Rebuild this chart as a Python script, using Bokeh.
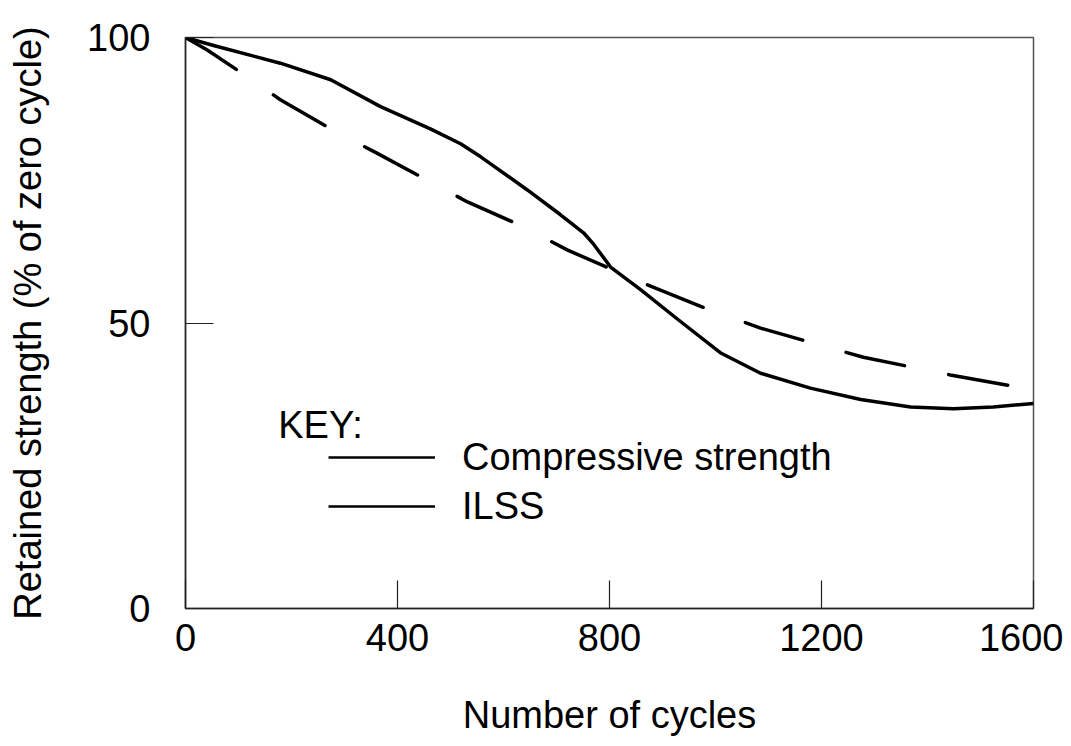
from bokeh.plotting import figure
from bokeh.models import Range1d, FixedTicker, Legend, LegendItem, Label
from bokeh.embed import file_html
from bokeh.resources import INLINE

# ---- data ----
comp_cycles = [0, 53, 179, 274, 368, 462, 519, 557, 645, 707, 751, 770, 802, 858,
               928, 1009, 1085, 1179, 1274, 1368, 1449, 1524, 1600]
comp_strength = [100, 98.6, 95.5, 92.6, 87.9, 84.0, 81.4, 79.1, 73.3, 69.0, 65.8, 63.8,
                 59.8, 55.9, 50.7, 44.8, 41.2, 38.6, 36.6, 35.3, 35.0, 35.3, 35.9]

ilss_cycles = [0, 41, 117, 179, 274, 362, 456, 532, 632, 720, 871, 972, 1085, 1279, 1443, 1600]
ilss_strength = [100, 97.8, 93.1, 89.1, 84.0, 79.7, 75.0, 71.2, 67.1, 62.8, 56.7, 52.9,
                 49.1, 44.0, 40.9, 38.3]

x_ticks = [0, 400, 800, 1200, 1600]
y_ticks = [0, 50, 100]
key_title = "KEY:"
series_names = ["Compressive strength", "ILSS"]
x_label = "Number of cycles"
y_label = "Retained strength (% of zero cycle)"

FONT = "Liberation Sans"
FS = "38px"

p = figure(width=1063, height=738, output_backend="svg", toolbar_location=None,
           x_range=Range1d(0, 1600), y_range=Range1d(0, 100),
           min_border_left=185, min_border_right=30, min_border_top=37,
           min_border_bottom=121)

p.background_fill_color = "white"
p.border_fill_color = "white"
p.grid.visible = False
p.outline_line_color = "#555555"
p.outline_line_width = 1.5

for ax in (p.xaxis[0], p.yaxis[0]):
    ax.axis_line_color = "#222222"
    ax.axis_line_width = 1.5
    ax.major_tick_line_color = "#222222"
    ax.major_tick_line_width = 1.2
    ax.major_tick_out = 0
    ax.major_tick_in = 28
    ax.minor_tick_line_color = None
    ax.major_label_text_font = FONT
    ax.major_label_text_font_size = FS
    ax.major_label_text_color = "black"
    ax.axis_label_text_font = FONT
    ax.axis_label_text_font_size = FS
    ax.axis_label_text_font_style = "normal"
    ax.axis_label_text_color = "black"

p.xaxis[0].ticker = FixedTicker(ticks=x_ticks)
p.yaxis[0].ticker = FixedTicker(ticks=y_ticks)
p.xaxis[0].axis_label = x_label
p.yaxis[0].axis_label = y_label
p.xaxis[0].major_label_standoff = 15
p.xaxis[0].axis_label_standoff = 40
p.yaxis[0].major_label_standoff = 35
p.yaxis[0].axis_label_standoff = 35

p.line(comp_cycles, comp_strength, line_color="black", line_width=3.5,
       line_join="round", line_cap="round")
p.line(ilss_cycles, ilss_strength, line_color="black", line_width=3.5,
       line_dash="60 45", line_join="round", line_cap="round")

# legend proxies (key shows plain solid lines for both); data lies outside the ranges
proxy1 = p.line([-300, -200], [-50, -50], line_color="black", line_width=2.5)
proxy2 = p.line([-300, -200], [-50, -50], line_color="black", line_width=2.5)

legend = Legend(items=[LegendItem(label=series_names[0], renderers=[proxy1]),
                       LegendItem(label=series_names[1], renderers=[proxy2])],
                location=(143, 80), orientation="vertical",
                glyph_width=107, glyph_height=44, label_height=44,
                label_standoff=27, spacing=5, padding=0, margin=0,
                border_line_color=None, background_fill_alpha=0,
                label_text_font=FONT, label_text_font_size=FS,
                label_text_color="black")
p.add_layout(legend, "center")

key = Label(x=175, y=32.2, text=key_title, text_font=FONT, text_font_size=FS,
            text_color="black", text_baseline="alphabetic", text_align="left")
p.add_layout(key)

open("out.html", "w").write(file_html(p, INLINE))
